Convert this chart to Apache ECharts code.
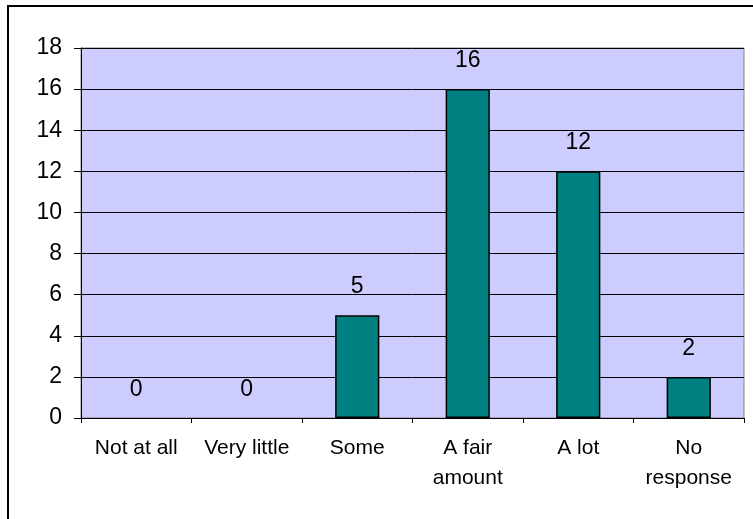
<!DOCTYPE html>
<html>
<head>
<meta charset="utf-8">
<script src="https://cdn.jsdelivr.net/npm/echarts@6/dist/echarts.min.js"></script>
<style>
  html, body { margin: 0; padding: 0; background: #ffffff; }
  #chart { width: 753px; height: 519px; }
</style>
</head>
<body>
<div id="chart"></div>
<script>
// Survey answers and how many respondents chose each
const categories = ['Not at all', 'Very little', 'Some', 'A fair\namount', 'A lot', 'No\nresponse'];
const counts = [0, 0, 5, 16, 12, 2];
const yMin = 0;
const yMax = 18;
const yStep = 2;

const FONT = 'Liberation Sans, Arial, sans-serif';

// Empty categories get no outline so nothing is drawn along the axis
const barData = counts.map(v => v === 0 ? { value: v, itemStyle: { borderWidth: 0 } } : v);

const chart = echarts.init(document.getElementById('chart'), null, { renderer: 'canvas' });

chart.setOption({
  animation: false,
  backgroundColor: '#ffffff',
  graphic: [{
    type: 'rect',
    shape: { x: 8, y: 6, width: 800, height: 600 },
    style: { fill: 'none', stroke: '#000000', lineWidth: 2 },
    silent: true,
    z: 100
  }],
  grid: {
    left: 81, right: 9, top: 48, bottom: 101,
    show: true,
    backgroundColor: '#CCCCFF',
    borderColor: '#808080',
    borderWidth: 1,
    containLabel: false
  },
  xAxis: {
    type: 'category',
    data: categories,
    axisLine: { show: true, lineStyle: { color: '#000000', width: 1 } },
    axisTick: { show: true, alignWithLabel: false, length: 5, lineStyle: { color: '#000000' } },
    axisLabel: {
      interval: 0,
      margin: 15,
      color: '#000000',
      fontFamily: FONT,
      fontSize: 21,
      lineHeight: 30,
      verticalAlign: 'top'
    },
    splitLine: { show: false }
  },
  yAxis: {
    type: 'value',
    min: yMin,
    max: yMax,
    interval: yStep,
    axisLine: { show: true, lineStyle: { color: '#000000', width: 1 } },
    axisTick: { show: true, length: 7, lineStyle: { color: '#000000' } },
    axisLabel: {
      margin: 19,
      color: '#000000',
      fontFamily: FONT,
      fontSize: 23
    },
    splitLine: { show: true, lineStyle: { color: '#000000', width: 1 } }
  },
  series: [{
    type: 'bar',
    data: barData,
    barWidth: '40%',
    itemStyle: { color: '#008080', borderColor: '#000000', borderWidth: 1.5 },
    label: {
      show: true,
      position: 'top',
      distance: 17,
      color: '#000000',
      fontFamily: FONT,
      fontSize: 23
    }
  }]
});
</script>
</body>
</html>
